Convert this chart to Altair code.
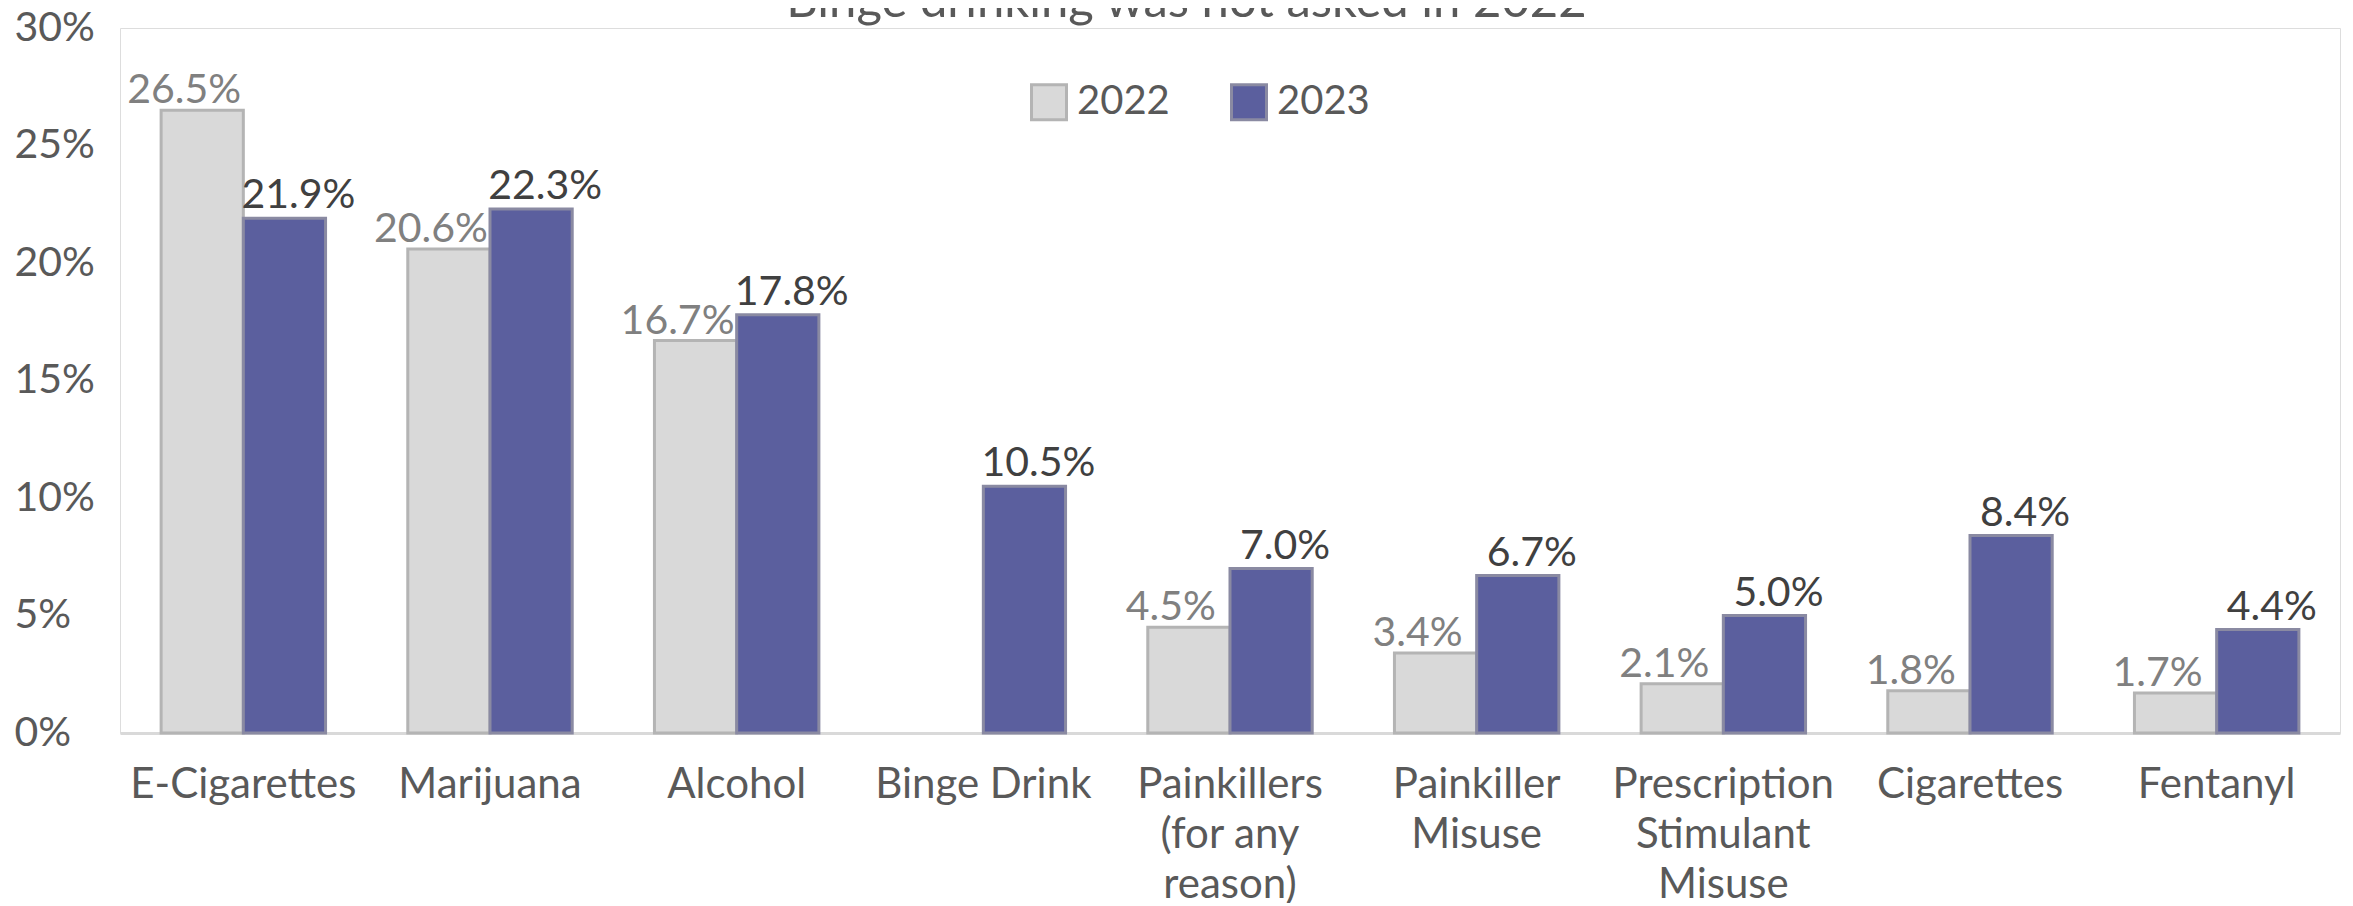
import altair as alt
import pandas as pd

categories = ["E-Cigarettes", "Marijuana", "Alcohol", "Binge Drink",
              "Painkillers\n(for any\nreason)", "Painkiller\nMisuse",
              "Prescription\nStimulant\nMisuse", "Cigarettes", "Fentanyl"]
years = ["2022", "2023"]
values_2022 = [26.5, 20.6, 16.7, None, 4.5, 3.4, 2.1, 1.8, 1.7]
values_2023 = [21.9, 22.3, 17.8, 10.5, 7.0, 6.7, 5.0, 8.4, 4.4]
y_ticks = [0, 5, 10, 15, 20, 25, 30]
note = "*Binge drinking was not asked in 2022"

rows = []
for c, a, b in zip(categories, values_2022, values_2023):
    if a is not None:
        rows.append({"category": c, "year": "2022", "value": a})
    rows.append({"category": c, "year": "2023", "value": b})
df = pd.DataFrame(rows)

FONT = "Lato"
TXT = "#595959"

x_enc = alt.X("category:N", sort=categories,
              scale=alt.Scale(paddingInner=1/3, paddingOuter=1/6),
              axis=alt.Axis(title=None, labelAngle=0,
                            labelExpr="split(datum.label, '\\n')",
                            labelFont=FONT, labelFontSize=42, labelColor=TXT,
                            labelLineHeight=50, labelPadding=31, labelBaseline="top",
                            labelLimit=0, labelOverlap=False,
                            ticks=False, tickSize=0,
                            domainColor="#d9d9d9", domainWidth=3))
xo_enc = alt.XOffset("year:N", sort=years, scale=alt.Scale(domain=years, paddingInner=0, paddingOuter=0))
y_enc = alt.Y("value:Q", scale=alt.Scale(domain=[0, 30], nice=False),
              axis=alt.Axis(values=y_ticks, title=None, grid=False, domain=False,
                            ticks=False, tickSize=0,
                            labelExpr="datum.value + '%'", labelAlign="left",
                            labelPadding=106, labelFont=FONT, labelFontSize=41,
                            labelColor=TXT))

legend = alt.Legend(orient="none", legendX=909, legendY=54, direction="horizontal",
                    title=None, symbolType="square", symbolSize=1225,
                    symbolStrokeWidth=3, labelFont=FONT, labelFontSize=40,
                    labelColor=TXT, labelOffset=8, columnPadding=55,
                    symbolOpacity=1)

bars = alt.Chart(df).mark_bar(strokeWidth=3, opacity=1).encode(
    x=x_enc, xOffset=xo_enc, y=y_enc,
    color=alt.Color("year:N", scale=alt.Scale(domain=years, range=["#d9d9d9", "#5b5f9e"]), legend=legend),
    stroke=alt.Stroke("year:N", scale=alt.Scale(domain=years, range=["#b4b4b4", "#8a8aa2"]), legend=legend),
)

lab22 = alt.Chart(df).transform_filter("datum.year == '2022'").transform_calculate(
    lbl="format(datum.value, '.1f') + '%'"
).mark_text(
    font=FONT, fontSize=41, color="#808080", baseline="alphabetic", dy=-7, dx=-18
).encode(x=x_enc, xOffset=xo_enc, y=y_enc, text="lbl:N")

lab23 = alt.Chart(df).transform_filter("datum.year == '2023'").transform_calculate(
    lbl="format(datum.value, '.1f') + '%'"
).mark_text(
    font=FONT, fontSize=41, color="#404040", baseline="alphabetic", dy=-10, dx=14
).encode(x=x_enc, xOffset=xo_enc, y=y_enc, text="lbl:N")

chart = alt.layer(bars, lab22, lab23).properties(
    width=2220, height=705,
    autosize=alt.AutoSizeParams(type="none"),
    padding={"left": 112, "top": 20, "right": 5, "bottom": 170},
    title=alt.TitleParams(note, font=FONT, fontSize=49, color=TXT, fontWeight="normal",
                          anchor="middle", dx=-54, baseline="alphabetic", offset=-59,
                          frame="group"),
).configure_view(stroke=None).configure(background="white")

chart.save("out.html", embed_options={"renderer": "svg", "actions": False})
